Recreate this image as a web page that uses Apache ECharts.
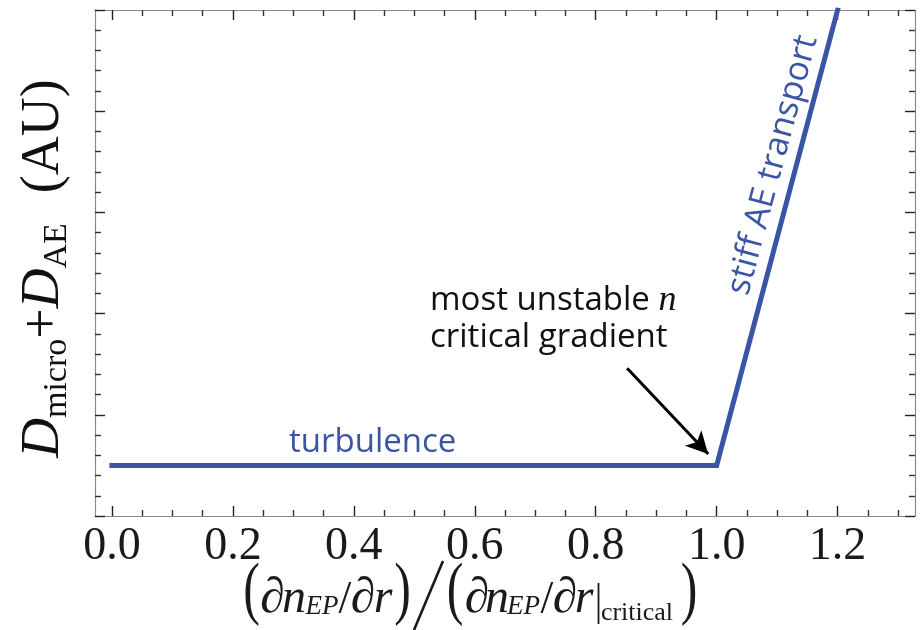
<!DOCTYPE html>
<html><head><meta charset="utf-8">
<script src="https://cdn.jsdelivr.net/npm/echarts@6/dist/echarts.min.js"></script>
<style>html,body{margin:0;padding:0;background:#fff}#c{width:922px;height:630px}</style>
</head><body><div id="c"></div>
<script>
// ---- data ----
const xMajorTicks = [0, 0.2, 0.4, 0.6, 0.8, 1.0, 1.2];
const xTickLabels = ['0.0', '0.2', '0.4', '0.6', '0.8', '1.0', '1.2'];
const xMinorTicks = [0.05, 0.1, 0.15, 0.25, 0.3, 0.35, 0.45, 0.5, 0.55, 0.65, 0.7, 0.75,
                     0.85, 0.9, 0.95, 1.05, 1.1, 1.15, 1.25, 1.3];
const yMajorTicks = [0, 0.2, 0.4, 0.6, 0.8, 1.0];
const yMinorTicks = [0.04, 0.08, 0.12, 0.16, 0.24, 0.28, 0.32, 0.36, 0.44, 0.48, 0.52, 0.56,
                     0.64, 0.68, 0.72, 0.76, 0.84, 0.88, 0.92, 0.96];
const curveX = [0, 1.0, 1.2];
const curveY = [0.1, 0.1, 1.0];
const arrowStart = [0.852, 0.292];
const arrowEnd = [0.986, 0.1225];
const labelTurbulence = 'turbulence';
const labelStiff = 'stiff AE transport';
const labelCritical1 = 'most unstable ';
const labelCriticalN = 'n';
const labelCritical2 = 'critical gradient';

// ---- styles ----
const BLUE = '#3a54a6';
const SERIF = '"Liberation Serif", "Times New Roman", serif';
const SANS = '"Open Sans", "Noto Sans", sans-serif';
const FRAME = '#8a8a8a';
const XMIN = -0.028, XMAX = 1.328;
const GRID = {left: 95, right: 7, top: 10, bottom: 114, containLabel: false};

const chart = echarts.init(document.getElementById('c'), null, {renderer: 'canvas'});

function xAxisDef(grid, pos, vals, len, labels, line, tickColor) {
  return {
    type: 'value', gridIndex: grid, position: pos, min: XMIN, max: XMAX,
    axisLine: {show: line, onZero: false, lineStyle: {color: FRAME, width: 1.2}},
    axisTick: {show: true, inside: true, length: len, customValues: vals,
               lineStyle: {color: tickColor, width: 1.4}},
    axisLabel: labels ? {
      show: true, customValues: xMajorTicks, margin: 8,
      formatter: v => { const i = xMajorTicks.findIndex(t => Math.abs(t - v) < 1e-6); return i >= 0 ? xTickLabels[i] : ''; },
      fontFamily: SERIF, fontSize: 46, color: '#1a1a1a'
    } : {show: false},
    splitLine: {show: false}
  };
}
function yAxisDef(grid, pos, vals, len, line, tickColor) {
  return {
    type: 'value', gridIndex: grid, position: pos, min: 0, max: 1,
    axisLine: {show: line, onZero: false, lineStyle: {color: FRAME, width: 1.2}},
    axisTick: {show: true, inside: true, length: len, customValues: vals,
               lineStyle: {color: tickColor, width: 1.4}},
    axisLabel: {show: false}, splitLine: {show: false}
  };
}

// x-axis title pieces: [text, centerX, baselineY, size, italic]
const baseY = 616;
const xNamePieces = [
  ['\u2202', 272.5, baseY, 50, true], ['n', 294, baseY, 48, true], ['EP', 322, baseY, 27, true],
  ['/', 345, baseY, 46, false], ['\u2202', 363, baseY, 50, true], ['r', 383, baseY, 48, true],
  ['\u2202', 477, baseY, 50, true], ['n', 497, baseY, 48, true], ['EP', 523.5, baseY, 27, true],
  ['/', 547, baseY, 46, false], ['\u2202', 565, baseY, 50, true], ['r', 584, baseY, 48, true],
  ['critical', 637, baseY + 6, 26, false]
];
const parenPieces = [['(', 251.5], [')', 402.5], ['(', 455], [')', 689]];

const graphics = [];
xNamePieces.forEach(p => {
  graphics.push({type: 'text', x: p[1], y: p[2] - 0.3375 * p[3], silent: true,
    style: {text: p[0], font: (p[4] ? 'italic ' : '') + p[3] + 'px ' + SERIF, fill: '#1a1a1a',
            align: 'center', verticalAlign: 'middle'}});
});
parenPieces.forEach(p => {
  graphics.push({type: 'text', x: p[1], y: 593, scaleY: 1.4, silent: true,
    style: {text: p[0], font: '50px ' + SERIF, fill: '#1a1a1a', align: 'center', verticalAlign: 'middle'}});
});
graphics.push({type: 'line', silent: true, shape: {x1: 414, y1: 630, x2: 443, y2: 561},
  style: {stroke: '#1a1a1a', lineWidth: 2.6}});
graphics.push({type: 'line', silent: true, shape: {x1: 598.5, y1: 583, x2: 598.5, y2: 624},
  style: {stroke: '#1a1a1a', lineWidth: 1.8}});

// y-axis title
graphics.push({type: 'text', x: 43.6, y: 268.5, rotation: Math.PI / 2, silent: true,
  style: {
    text: '{d|D}{s|micro}{p|+}{d|D}{s|AE}{g|}{p|(AU)}',
    align: 'center', verticalAlign: 'middle', fill: '#111',
    rich: {
      d: {fontFamily: SERIF, fontStyle: 'italic', fontSize: 55, lineHeight: 60},
      p: {fontFamily: SERIF, fontSize: 54, lineHeight: 60},
      s: {fontFamily: SERIF, fontSize: 34, lineHeight: 26, verticalAlign: 'bottom'},
      g: {fontFamily: SERIF, fontSize: 54, lineHeight: 60, width: 30}
    }
  }});

// annotations
graphics.push({type: 'text', x: 289, y: 443, silent: true,
  style: {text: labelTurbulence, font: '33px ' + SANS, fill: BLUE, align: 'left', verticalAlign: 'middle'}});
graphics.push({type: 'text', x: 773, y: 165, rotation: 75 * Math.PI / 180, silent: true,
  style: {text: labelStiff, font: '34px ' + SANS, fill: BLUE, align: 'center', verticalAlign: 'middle'}});
graphics.push({type: 'text', x: 430, y: 301, silent: true,
  style: {text: '{a|' + labelCritical1 + '}{i|' + labelCriticalN + '}', align: 'left', verticalAlign: 'middle', fill: '#111',
    rich: {a: {fontFamily: SANS, fontSize: 33, lineHeight: 40},
           i: {fontFamily: SERIF, fontStyle: 'italic', fontSize: 36, lineHeight: 40}}}});
graphics.push({type: 'text', x: 430, y: 338, silent: true,
  style: {text: labelCritical2, font: '33px ' + SANS, fill: '#111', align: 'left', verticalAlign: 'middle'}});

const option = {
  animation: false,
  backgroundColor: '#fff',
  grid: [Object.assign({}, GRID), Object.assign({}, GRID)],
  xAxis: [
    xAxisDef(0, 'bottom', xMajorTicks, 10, true, true, '#222'),
    xAxisDef(0, 'top', xMajorTicks, 10, false, true, '#222'),
    xAxisDef(1, 'bottom', xMinorTicks, 6, false, false, '#333'),
    xAxisDef(1, 'top', xMinorTicks, 6, false, false, '#333')
  ],
  yAxis: [
    yAxisDef(0, 'left', yMajorTicks, 10, true, '#222'),
    yAxisDef(0, 'right', yMajorTicks, 10, true, '#222'),
    yAxisDef(1, 'left', yMinorTicks, 6, false, '#333'),
    yAxisDef(1, 'right', yMinorTicks, 6, false, '#333')
  ],
  series: [
    {
      type: 'line', xAxisIndex: 0, yAxisIndex: 0, symbol: 'none', clip: true,
      data: curveX.map((x, i) => [x, curveY[i]]),
      lineStyle: {color: BLUE, width: 5, join: 'miter', cap: 'square'},
      z: 3
    },
    {
      type: 'line', xAxisIndex: 0, yAxisIndex: 0, symbol: 'none', data: [],
      markLine: {
        silent: true, animation: false,
        symbol: ['none', 'arrow'], symbolSize: [17, 22],
        label: {show: false},
        lineStyle: {color: '#000', width: 3, type: 'solid'},
        data: [[{coord: arrowStart}, {coord: arrowEnd}]]
      }
    },
    {type: 'line', xAxisIndex: 2, yAxisIndex: 2, symbol: 'none', data: []}
  ],
  graphic: graphics
};
chart.setOption(option);
</script></body></html>
